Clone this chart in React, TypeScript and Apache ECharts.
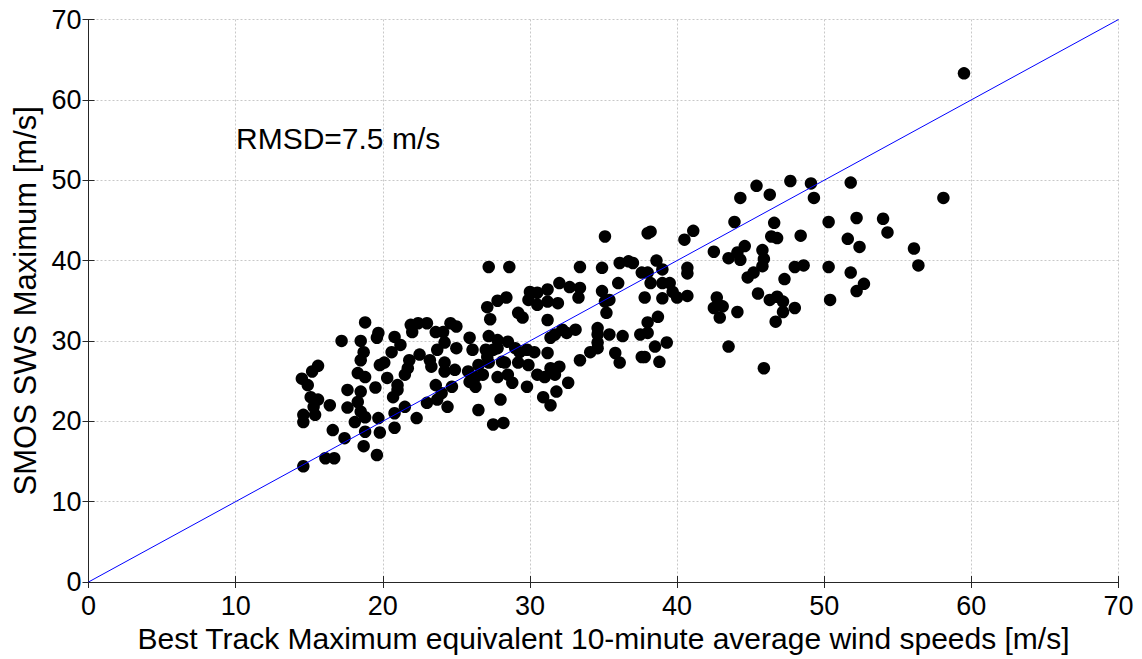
import React, { useEffect, useRef } from "react";
import * as echarts from "echarts";

const xTicks = [0, 10, 20, 30, 40, 50, 60, 70];
const yTicks = [0, 10, 20, 30, 40, 50, 60, 70];
const xTitle = "Best Track Maximum equivalent 10-minute average wind speeds [m/s]";
const yTitle = "SMOS SWS Maximum [m/s]";
const annotation = "RMSD=7.5 m/s";
const oneToOne = [[0, 0], [70, 70]];

// [best track wind, SMOS wind]
const points: number[][] = [
  [59.5, 63.3], [58.1, 47.8], [56.1, 41.5], [56.4, 39.4], [51.8, 49.7], [52.2, 45.3], [54.0, 45.2], [54.3, 43.5],
  [51.6, 42.7], [52.4, 41.7], [50.3, 44.8], [50.3, 39.2], [51.8, 38.5], [52.7, 37.1], [52.2, 36.2], [50.4, 35.1],
  [45.4, 49.3], [44.3, 47.8], [46.3, 48.2], [47.7, 49.9], [49.1, 49.6], [49.3, 47.8], [43.9, 44.8], [46.6, 44.7],
  [46.4, 43.0], [46.8, 42.8], [48.4, 43.1], [44.6, 41.8], [45.8, 41.3], [44.1, 41.0], [44.3, 40.1], [45.9, 40.2],
  [45.8, 39.3], [44.8, 37.9], [45.2, 38.5], [48.0, 39.2], [48.6, 39.4], [47.3, 37.7], [45.5, 35.9], [46.3, 35.1],
  [46.8, 35.5], [47.2, 34.9], [47.2, 33.6], [48.0, 34.1], [46.7, 32.4], [44.1, 33.6], [45.9, 26.6], [43.5, 40.3],
  [41.1, 43.7], [40.5, 42.6], [38.2, 43.6], [42.5, 41.1], [38.6, 40.0], [39.0, 38.9], [40.7, 39.1], [40.7, 38.4],
  [38.0, 38.5], [38.2, 37.2], [39.0, 37.2], [39.5, 37.2], [39.7, 36.1], [37.8, 35.4], [39.0, 35.3], [40.0, 35.4],
  [40.7, 35.6], [42.7, 35.4], [42.5, 34.1], [43.1, 34.3], [42.9, 32.9], [38.7, 33.0], [38.0, 32.3], [38.0, 31.0],
  [38.5, 29.3], [39.3, 29.8], [37.8, 28.0], [38.8, 27.4], [43.5, 29.3],
  [35.1, 43.0], [38.0, 43.4], [33.4, 39.2], [34.9, 39.1], [36.1, 39.7], [36.7, 39.9], [37.0, 39.7], [37.6, 38.5],
  [32.0, 37.2], [32.7, 36.7], [33.4, 36.6], [33.3, 35.4], [31.9, 34.7], [34.9, 36.2], [36.0, 37.2], [35.4, 35.1],
  [35.1, 34.9], [35.2, 33.5], [32.2, 31.4], [32.5, 31.0], [33.1, 31.4], [31.7, 30.8], [34.6, 31.6], [34.6, 30.8],
  [35.4, 30.8], [36.3, 30.6], [37.5, 30.8], [34.6, 29.8], [34.6, 29.1], [34.1, 28.6], [33.4, 27.6], [35.8, 28.5],
  [36.1, 27.3], [37.6, 28.0], [32.0, 26.8], [31.7, 25.8], [32.6, 24.8], [31.8, 23.7],
  [27.2, 39.2], [28.6, 39.2], [30.0, 36.1], [30.5, 36.0], [31.2, 36.4], [29.9, 35.1], [30.5, 34.5], [31.2, 34.9],
  [27.8, 35.0], [28.4, 35.4], [27.1, 34.2], [27.3, 32.7], [29.2, 33.5], [29.5, 32.9], [31.2, 32.6], [25.9, 30.4],
  [26.1, 28.9], [27.2, 30.6], [27.8, 30.1], [28.5, 29.9], [27.0, 28.9], [27.5, 28.9], [27.8, 29.1], [29.0, 29.1],
  [29.3, 28.6], [29.8, 28.9], [30.3, 28.6], [31.2, 28.5], [31.4, 30.4], [27.1, 28.0], [27.2, 27.3], [28.1, 27.4],
  [28.3, 27.3], [29.2, 27.3], [29.9, 27.0], [26.5, 27.0], [25.8, 26.2], [26.3, 25.5], [26.8, 25.8], [27.8, 25.5],
  [28.5, 25.8], [28.8, 24.8], [25.9, 24.9], [26.3, 24.3], [29.8, 24.3], [30.5, 25.8], [31.0, 25.5], [31.4, 26.6],
  [30.9, 23.0], [31.4, 22.0], [28.0, 22.7], [26.5, 21.4], [27.5, 19.6], [28.2, 19.8],
  [21.9, 32.0], [22.4, 32.2], [23.0, 32.2], [22.0, 31.1], [24.6, 32.2], [25.0, 31.8], [23.6, 31.1], [24.1, 31.1],
  [19.7, 31.0], [19.6, 30.4], [20.8, 30.5], [21.2, 29.5], [20.6, 28.6], [24.2, 29.8], [25.0, 29.1], [23.7, 28.9],
  [22.5, 28.3], [21.8, 27.6], [21.7, 26.6], [23.2, 27.6], [23.3, 26.8], [24.2, 27.3], [24.9, 26.4], [24.2, 26.2],
  [20.1, 27.3], [19.8, 27.0], [21.5, 25.8], [20.3, 25.4], [19.5, 24.2], [21.0, 24.5], [21.0, 23.9], [20.7, 23.0],
  [23.6, 24.5], [24.0, 23.5], [24.7, 24.3], [23.0, 22.3], [23.7, 22.7], [24.4, 21.8], [21.5, 21.8], [20.8, 21.0],
  [22.3, 20.4], [20.8, 19.2], [19.7, 20.4], [19.8, 18.6], [19.6, 15.8],
  [17.2, 30.0], [18.5, 30.0], [18.7, 28.6], [18.5, 27.6], [15.6, 26.9], [15.2, 26.2], [14.5, 25.3], [14.9, 24.5],
  [18.3, 26.0], [18.8, 25.5], [17.6, 23.9], [18.5, 23.7], [15.1, 23.0], [15.6, 22.7], [18.3, 22.4], [16.4, 22.0],
  [17.6, 21.7], [15.3, 21.8], [18.5, 21.2], [18.8, 20.5], [14.6, 20.8], [15.4, 20.8], [14.6, 19.9], [18.1, 19.9],
  [16.6, 18.9], [18.8, 18.7], [17.4, 17.9], [18.7, 16.9], [16.1, 15.4], [16.7, 15.4], [14.6, 14.4], [18.8, 32.3],
];

const FONT = "'Liberation Sans', Arial, Helvetica, sans-serif";

export default function App() {
  const ref = useRef<HTMLDivElement>(null);
  useEffect(() => {
    document.body.style.margin = "0";
    const chart = echarts.init(ref.current!, null, { renderer: "svg" });
    const axisCommon = {
      type: "value" as const,
      min: 0,
      max: 70,
      interval: 10,
      axisLine: { show: true, lineStyle: { color: "#262626", width: 1 } },
      axisTick: { show: true, inside: true, length: 6, lineStyle: { color: "#262626" } },
    };
    chart.setOption({
      animation: false,
      backgroundColor: "#ffffff",
      textStyle: { fontFamily: FONT },
      grid: { left: 88.5, right: 23.5, top: 19.5, bottom: 77, containLabel: false },
      xAxis: [
        {
          ...axisCommon,
          position: "bottom",
          name: xTitle,
          nameLocation: "middle",
          nameGap: 40,
          nameTextStyle: { fontSize: 30, color: "#000", fontFamily: FONT },
          axisLabel: {
            fontSize: 27, color: "#000", margin: 10, fontFamily: FONT,
            formatter: (v: number) => (xTicks.includes(v) ? String(v) : ""),
          },
          splitLine: { show: true, lineStyle: { color: "#c8c8c8", type: [2, 2], width: 1 } },
        },
        {
          ...axisCommon,
          position: "top",
          axisLabel: { show: false },
          splitLine: { show: false },
        },
      ],
      yAxis: [
        {
          ...axisCommon,
          position: "left",
          name: yTitle,
          nameLocation: "middle",
          nameGap: 46,
          nameRotate: 90,
          nameTextStyle: { fontSize: 31, color: "#000", fontFamily: FONT },
          axisLabel: {
            fontSize: 27, color: "#000", margin: 7, fontFamily: FONT,
            formatter: (v: number) => (yTicks.includes(v) ? String(v) : ""),
          },
          splitLine: { show: true, lineStyle: { color: "#c8c8c8", type: [2, 2], width: 1 } },
        },
        {
          ...axisCommon,
          position: "right",
          axisLabel: { show: false },
          splitLine: { show: false },
        },
      ],
      graphic: [
        {
          type: "text",
          left: 236,
          top: 123,
          style: { text: annotation, fontSize: 30, fill: "#000", fontFamily: FONT },
        },
      ],
      series: [
        {
          type: "line",
          data: oneToOne,
          symbol: "none",
          lineStyle: { color: "#0000ff", width: 1 },
          z: 3,
          silent: true,
        },
        {
          type: "scatter",
          data: points,
          symbol: "circle",
          symbolSize: 12.5,
          itemStyle: { color: "#000000", opacity: 1 },
          z: 2,
        },
      ],
    });
    return () => chart.dispose();
  }, []);
  return <div ref={ref} style={{ width: 1142, height: 659 }} />;
}
